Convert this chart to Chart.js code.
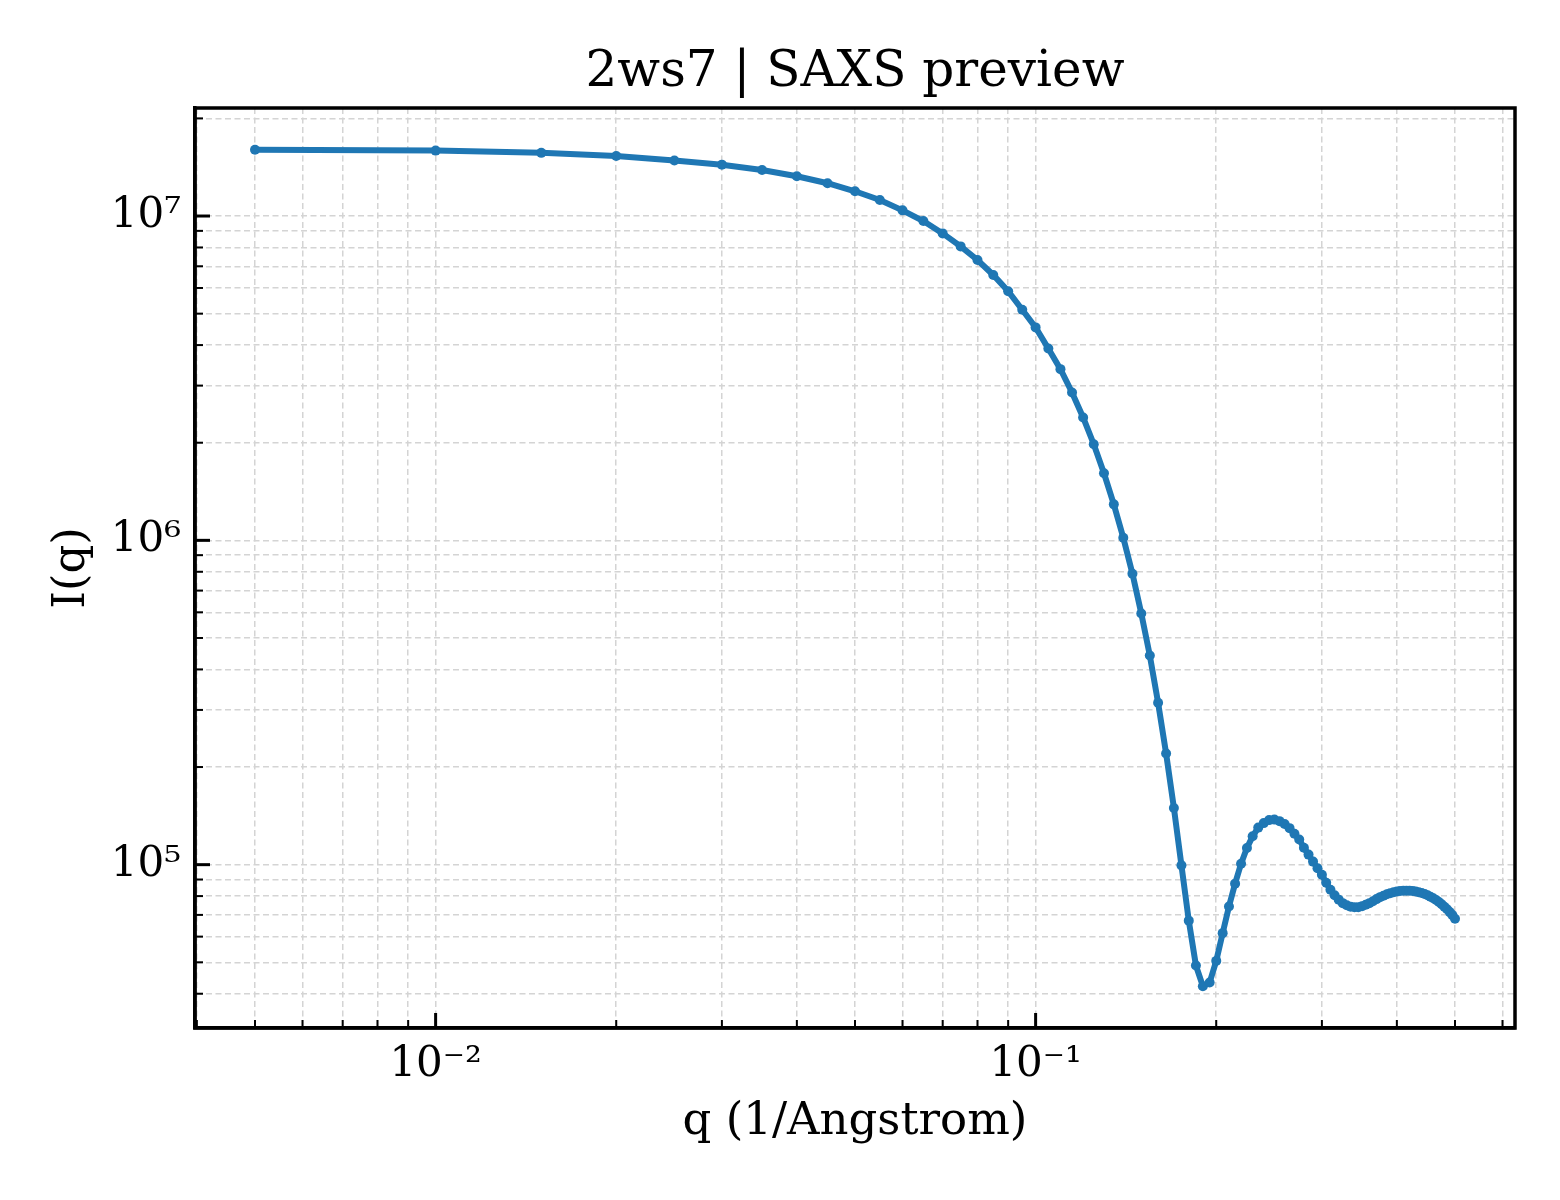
<!DOCTYPE html>
<html>
<head>
<meta charset="utf-8">
<title>2ws7 | SAXS preview</title>
<script src="https://cdn.jsdelivr.net/npm/chart.js@4.4.1/dist/chart.umd.min.js"></script>
<style>
  html, body { margin: 0; padding: 0; background: #ffffff; }
  #wrap { width: 1560px; height: 1200px; }
</style>
</head>
<body>
<div id="wrap"><canvas id="saxs" width="1560" height="1200"></canvas></div>
<script>
// q values (1/Angstrom)
const qValues = [
  0.005, 0.010, 0.015, 0.020, 0.025, 0.030, 0.035, 0.040, 0.045, 0.050,
  0.055, 0.060, 0.065, 0.070, 0.075, 0.080, 0.085, 0.090, 0.095, 0.100,
  0.105, 0.110, 0.115, 0.120, 0.125, 0.130, 0.135, 0.140, 0.145, 0.150,
  0.155, 0.160, 0.165, 0.170, 0.175, 0.180, 0.185, 0.190, 0.195, 0.200,
  0.205, 0.210, 0.215, 0.220, 0.225, 0.230, 0.235, 0.240, 0.245, 0.250,
  0.255, 0.260, 0.265, 0.270, 0.275, 0.280, 0.285, 0.290, 0.295, 0.300,
  0.305, 0.310, 0.315, 0.320, 0.325, 0.330, 0.335, 0.340, 0.345, 0.350,
  0.355, 0.360, 0.365, 0.370, 0.375, 0.380, 0.385, 0.390, 0.395, 0.400,
  0.405, 0.410, 0.415, 0.420, 0.425, 0.430, 0.435, 0.440, 0.445, 0.450,
  0.455, 0.460, 0.465, 0.470, 0.475, 0.480, 0.485, 0.490, 0.495, 0.500
];

// I(q)
const intensity = [
  1.600e7, 1.591e7, 1.566e7, 1.532e7, 1.483e7, 1.440e7, 1.387e7, 1.326e7, 1.262e7, 1.192e7,
  1.121e7, 1.041e7, 9.65e6, 8.84e6, 8.06e6, 7.32e6, 6.58e6, 5.86e6, 5.14e6, 4.535e6,
  3.905e6, 3.372e6, 2.857e6, 2.392e6, 1.979e6, 1.610e6, 1.291e6, 1.019e6, 7.89e5, 5.95e5,
  4.417e5, 3.156e5, 2.201e5, 1.496e5, 9.95e4, 6.72e4, 4.89e4, 4.22e4, 4.33e4, 5.05e4,
  6.15e4, 7.43e4, 8.74e4, 1.007e5, 1.126e5, 1.223e5, 1.301e5, 1.343e5, 1.372e5, 1.377e5,
  1.362e5, 1.334e5, 1.296e5, 1.246e5, 1.195e5, 1.128e5, 1.074e5, 1.022e5, 9.75e4, 9.31e4,
  8.80e4, 8.37e4, 8.05e4, 7.80e4, 7.61e4, 7.50e4, 7.42e4, 7.39e4, 7.39e4, 7.45e4,
  7.52e4, 7.61e4, 7.71e4, 7.83e4, 7.94e4, 8.02e4, 8.11e4, 8.17e4, 8.22e4, 8.27e4,
  8.30e4, 8.31e4, 8.31e4, 8.31e4, 8.30e4, 8.27e4, 8.22e4, 8.18e4, 8.12e4, 8.05e4,
  7.96e4, 7.88e4, 7.78e4, 7.67e4, 7.55e4, 7.42e4, 7.29e4, 7.14e4, 6.99e4, 6.81e4
];

// tick labels
const xMajorTicks = [0.01, 0.1];
const xTickLabels = ['10\u207B\u00B2', '10\u207B\u00B9'];
const yMajorTicks = [1e5, 1e6, 1e7];
const yTickLabels = ['10\u2075', '10\u2076', '10\u2077'];
const decadeSteps = [1, 2, 3, 4, 5, 6, 7, 8, 9];

const FONT = 'DejaVu Serif';
const LINE_COLOR = '#1f77b4';

// matplotlib style: 5% margin in log space
function logLimits(values) {
  const lo = Math.log10(Math.min(...values));
  const hi = Math.log10(Math.max(...values));
  const pad = (hi - lo) * 0.05;
  return [Math.pow(10, lo - pad), Math.pow(10, hi + pad)];
}
const [xMin, xMax] = logLimits(qValues);
const [yMin, yMax] = logLimits(intensity);

function isDecade(v) {
  const l = Math.log10(v);
  return Math.abs(l - Math.round(l)) < 1e-6;
}

function labelFor(v, majors, labels) {
  const i = majors.findIndex(m => Math.abs(m - v) / m < 1e-6);
  return i >= 0 ? labels[i] : '';
}

// major + minor log ticks (1..9 x 10^n) inside the range
function buildLogTicks(scale) {
  const ticks = [];
  const e0 = Math.floor(Math.log10(scale.min));
  const e1 = Math.ceil(Math.log10(scale.max));
  for (let e = e0; e <= e1; e++) {
    decadeSteps.forEach(m => {
      const v = parseFloat((m * Math.pow(10, e)).toPrecision(6));
      if (v >= scale.min && v <= scale.max) ticks.push({ value: v });
    });
  }
  scale.ticks = ticks;
}

// frame on all four sides and inward ticks on left / bottom
const framePlugin = {
  id: 'frame',
  afterDraw(chart) {
    const { ctx, chartArea: a, scales } = chart;
    ctx.save();
    ctx.strokeStyle = '#000000';
    ctx.lineCap = 'butt';

    scales.x.ticks.forEach(t => {
      const px = scales.x.getPixelForValue(t.value);
      if (px < a.left || px > a.right) return;
      const major = isDecade(t.value);
      ctx.lineWidth = major ? 3 : 2;
      ctx.beginPath();
      ctx.moveTo(px, a.bottom);
      ctx.lineTo(px, a.bottom - (major ? 15 : 8));
      ctx.stroke();
    });

    scales.y.ticks.forEach(t => {
      const py = scales.y.getPixelForValue(t.value);
      if (py < a.top || py > a.bottom) return;
      const major = isDecade(t.value);
      ctx.lineWidth = major ? 3 : 2;
      ctx.beginPath();
      ctx.moveTo(a.left, py);
      ctx.lineTo(a.left + (major ? 15 : 8), py);
      ctx.stroke();
    });

    ctx.lineWidth = 3.5;
    ctx.strokeRect(a.left, a.top, a.right - a.left, a.bottom - a.top);
    ctx.restore();
  }
};

const gridStyle = { color: '#d4d4d4', lineWidth: 1.5, drawTicks: false };
const borderStyle = { display: true, color: '#000000', width: 3.5, dash: [6, 3.5] };

const points = qValues.map((q, i) => ({ x: q, y: intensity[i] }));

new Chart(document.getElementById('saxs'), {
  type: 'line',
  data: {
    datasets: [{
      data: points,
      borderColor: LINE_COLOR,
      backgroundColor: LINE_COLOR,
      borderWidth: 6,
      pointRadius: 5,
      pointBorderWidth: 0,
      pointBackgroundColor: LINE_COLOR,
      tension: 0,
      fill: false
    }]
  },
  options: {
    responsive: false,
    devicePixelRatio: 1,
    animation: false,
    layout: { padding: { left: 0, right: 45, top: 0, bottom: 0 } },
    scales: {
      x: {
        type: 'logarithmic',
        min: xMin,
        max: xMax,
        afterBuildTicks: buildLogTicks,
        afterFit: s => { s.height = 172; },
        grid: gridStyle,
        border: borderStyle,
        ticks: {
          autoSkip: false,
          maxRotation: 0,
          padding: 12,
          color: '#000000',
          font: { family: FONT, size: 42 },
          callback: v => labelFor(v, xMajorTicks, xTickLabels)
        },
        title: {
          display: true,
          text: 'q (1/Angstrom)',
          color: '#000000',
          font: { family: FONT, size: 45 },
          padding: { top: 0, bottom: 51 }
        }
      },
      y: {
        type: 'logarithmic',
        min: yMin,
        max: yMax,
        afterBuildTicks: buildLogTicks,
        afterFit: s => { s.width = 195; },
        grid: gridStyle,
        border: borderStyle,
        ticks: {
          autoSkip: false,
          padding: 14,
          color: '#000000',
          font: { family: FONT, size: 42 },
          callback: v => labelFor(v, yMajorTicks, yTickLabels)
        },
        title: {
          display: true,
          text: 'I(q)',
          color: '#000000',
          font: { family: FONT, size: 45 },
          padding: { top: 45, bottom: 0 }
        }
      }
    },
    plugins: {
      legend: { display: false },
      tooltip: { enabled: false },
      title: {
        display: true,
        fullSize: false,
        text: '2ws7 | SAXS preview',
        color: '#000000',
        font: { family: FONT, size: 50, weight: 'normal' },
        padding: { top: 43, bottom: 5 }
      }
    }
  },
  plugins: [framePlugin]
});
</script>
</body>
</html>
